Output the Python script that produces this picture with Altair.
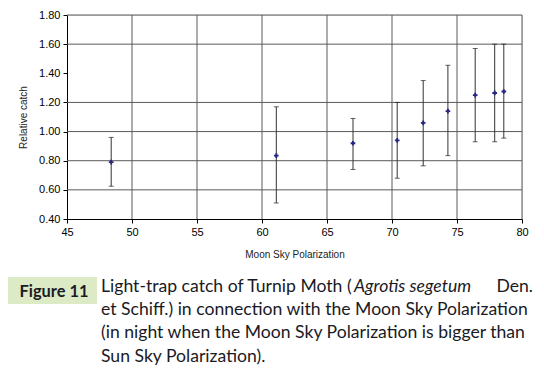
import altair as alt
import pandas as pd

# Data
polarization = [48.4, 61.1, 67.0, 70.4, 72.4, 74.3, 76.4, 77.9, 78.6]
relative_catch = [0.79, 0.835, 0.92, 0.94, 1.06, 1.14, 1.25, 1.265, 1.275]
err_low = [0.625, 0.51, 0.74, 0.68, 0.765, 0.835, 0.93, 0.93, 0.955]
err_high = [0.96, 1.17, 1.09, 1.20, 1.35, 1.455, 1.57, 1.60, 1.60]

x_ticks = [45, 50, 55, 60, 65, 70, 75, 80]
y_ticks = [0.4, 0.6, 0.8, 1.0, 1.2, 1.4, 1.6, 1.8]
x_grid = [50, 55, 60, 65, 70, 75, 80]
y_grid = [0.6, 0.8, 1.0, 1.2, 1.6, 1.8]

caption_label = "Figure 11"
caption_line1_a = "Light-trap catch of Turnip Moth ("
caption_line1_b = "Agrotis segetum"
caption_line1_c = " Den."
caption_lines = [
    "et Schiff.) in connection with the Moon Sky Polarization",
    "(in night when the Moon Sky Polarization is bigger than",
    "Sun Sky Polarization).",
]

df = pd.DataFrame({"x": polarization, "y": relative_catch, "lo": err_low, "hi": err_high})
gx = pd.DataFrame({"x": x_grid})
gy = pd.DataFrame({"y": y_grid})

xs = alt.Scale(domain=[45, 80], nice=False, zero=False)
ys = alt.Scale(domain=[0.4, 1.8], nice=False, zero=False)

AX_FONT = "Liberation Sans"
common = dict(grid=False, domainColor="black", tickColor="black", tickSize=4, labelPadding=3,
              labelFont=AX_FONT, labelFontSize=11, labelColor="black", labelOverlap=False,
              labelFlush=False, labelBound=False, titleFont=AX_FONT, titleFontSize=10,
              titleFontWeight="normal", titleColor="#222")
x_axis = alt.Axis(values=x_ticks, format="d", titlePadding=12, **common)
y_axis = alt.Axis(values=y_ticks, format=".2f", titlePadding=10, tickCount=8, **common)

X_TITLE = "Moon Sky Polarization"
Y_TITLE = "Relative catch"


def X(f):
    return alt.X(f, type="quantitative", scale=xs, axis=x_axis, title=X_TITLE)


def Y(f):
    return alt.Y(f, type="quantitative", scale=ys, axis=y_axis, title=Y_TITLE)


grid_x = alt.Chart(gx).mark_rule(color="#5a5a5a", strokeWidth=1).encode(x=X("x"))
grid_y = alt.Chart(gy).mark_rule(color="#5a5a5a", strokeWidth=1).encode(y=Y("y"))

bars = alt.Chart(df).mark_rule(color="#333333", strokeWidth=1).encode(
    x=X("x"), y=Y("lo"), y2="hi:Q")
cap_lo = alt.Chart(df).mark_tick(color="#222222", thickness=1, size=5, orient="horizontal").encode(
    x=X("x"), y=Y("lo"))
cap_hi = alt.Chart(df).mark_tick(color="#222222", thickness=1, size=5, orient="horizontal").encode(
    x=X("x"), y=Y("hi"))
points = alt.Chart(df).mark_point(shape="cross", filled=True, size=22, color="#262680", opacity=1).encode(
    x=X("x"), y=Y("y"))

# Caption (positions relative to plot area origin)
CAP_FONT = "Lato"
CAP_SIZE = 17.6
CAP_COLOR = "#1a1a24"
one = pd.DataFrame({"k": [0]})
box = alt.Chart(one).mark_rect(color="#dcebc6").encode(
    x=alt.value(-59), x2=alt.value(30), y=alt.value(262), y2=alt.value(289))
fig_lbl = alt.Chart(one).mark_text(text=caption_label, font=CAP_FONT, fontSize=16.4, fontWeight="bold",
                                   color=CAP_COLOR, align="center", baseline="alphabetic").encode(
    x=alt.value(-13), y=alt.value(281.5))
l1a = alt.Chart(one).mark_text(text=caption_line1_a, font=CAP_FONT, fontSize=CAP_SIZE, color=CAP_COLOR,
                               align="left", baseline="alphabetic").encode(x=alt.value(34), y=alt.value(276.7))
l1b = alt.Chart(one).mark_text(text=caption_line1_b, font=CAP_FONT, fontSize=CAP_SIZE, fontStyle="italic",
                               color=CAP_COLOR, align="left", baseline="alphabetic").encode(x=alt.value(287), y=alt.value(276.7))
l1c = alt.Chart(one).mark_text(text=caption_line1_c, font=CAP_FONT, fontSize=CAP_SIZE, color=CAP_COLOR,
                               align="right", baseline="alphabetic").encode(x=alt.value(466), y=alt.value(276.7))
rest = []
for i, line in enumerate(caption_lines):
    rest.append(alt.Chart(one).mark_text(text=line, font=CAP_FONT, fontSize=CAP_SIZE, color=CAP_COLOR,
                                         align="left", baseline="alphabetic").encode(
        x=alt.value(34), y=alt.value(300 + 23.35 * i)))

chart = alt.layer(grid_x, grid_y, bars, cap_lo, cap_hi, points,
                  box, fig_lbl, l1a, l1b, l1c, *rest).properties(
    width=455, height=204,
    padding={"left": 59, "top": 7, "right": 14, "bottom": 147},
    autosize=alt.AutoSizeParams(type="none"),
).configure_view(stroke=None).configure(background="white")

chart.save("out.html", embed_options={"renderer": "svg", "actions": False})
